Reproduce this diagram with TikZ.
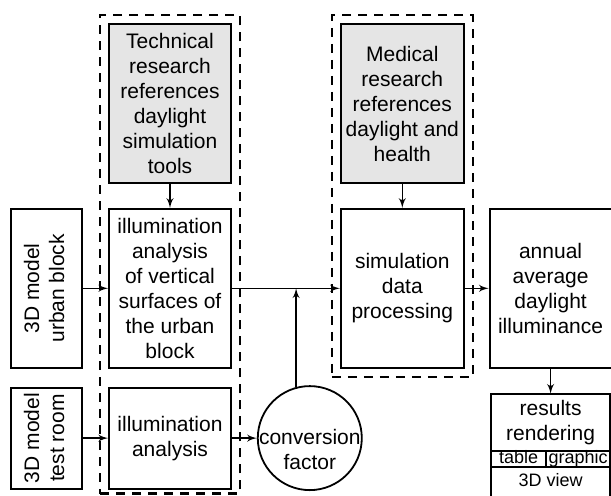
\documentclass[tikz,border=0pt]{standalone}
\usepackage{fontspec}
\setmainfont{Liberation Sans}
\usepackage{graphicx}
\usepackage{tikz}
\usetikzlibrary{positioning}
\usetikzlibrary{arrows,fit}
\tikzstyle{block} = [rectangle, draw, line width=0.9pt, align=center, inner sep=1pt,
                minimum width=61pt, minimum height=79.5pt]
\tikzstyle{source} = [block, fill=gray!20]
\tikzstyle{model} = [rectangle, draw, line width=0.9pt, minimum width=35.5pt, inner sep=0pt]
\tikzstyle{cell} = [rectangle, draw, line width=0.8pt, outer sep=0pt, inner sep=0pt,
                font=\fontsize{9}{11}\selectfont, text height=6.3pt, text depth=1.9pt, minimum height=8.2pt]
\tikzstyle{group} = [draw, line width=1.2pt, dash pattern=on 4.5pt off 3.5pt, inner sep=4pt]
\tikzstyle{line} = [draw, line width=0.7pt, -latex']

\begin{document}
\begin{tikzpicture}[font=\fontsize{10.5}{12.5}\selectfont]
        \useasboundingbox (0,0) rectangle (305.5pt,-247.5pt);
        \node[source] (tech) at (85pt,-51.75pt) {Technical\\research\\references\\daylight\\simulation\\tools};
        \node[block, below=12pt of tech] (illumv) {illumination\\analysis\\of vertical\\surfaces of\\the urban\\block};
        \node[block, below=9pt of illumv, minimum height=50.5pt] (illum) {illumination\\analysis};
        \node[model, left=12.5pt of illumv, minimum height=79.5pt] (urban) {\rotatebox{90}{\begin{tabular}{@{}c@{}}3D model\\urban block\end{tabular}}};
        \node[model, left=12.5pt of illum, minimum height=50.5pt] (room) {\rotatebox{90}{\begin{tabular}{@{}c@{}}3D model\\test room\end{tabular}}};
        \node[block, right=54pt of illumv, minimum width=61.5pt] (simproc) {simulation\\data\\processing};
        \node[source, above=12pt of simproc, minimum width=61.5pt] (medical) {Medical\\research\\references\\daylight and\\health};
        \node[block, right=12pt of simproc] (annual) {annual\\average\\daylight\\illuminance};
        \node[block, below=12.5pt of annual, minimum width=59.5pt, minimum height=28.5pt, outer sep=0pt] (results) {results\\rendering};
        \node[cell, below right=0pt and 0pt of results.south west, minimum width=27.5pt] (table) {table};
        \node[cell, right=0pt of table, minimum width=32pt] (graphic) {graphic};
        \node[cell, below right=0pt and 0pt of table.south west, minimum width=59.5pt, minimum height=15pt] (view) {3D view};
        \node[draw, circle, line width=0.9pt, minimum size=52pt, inner sep=0pt, right=12.5pt of illum,
              label={[align=center, yshift=-5.5pt]center:conversion\\factor}] (conv) {};
        \node[group, fit=(tech)(illum), inner ysep=3pt, yshift=1pt] (techgroup) {};
        \node[group, fit=(medical)(simproc)] (medgroup) {};
        \path[line] (tech) -- (illumv);
        \path[line] (medical) -- (simproc);
        \path[line] (urban) -- (illumv);
        \path[line] (room) -- (illum);
        \path[line] (illumv) -- (simproc);
        \path[line] (illum) -- (conv);
        \path[line] (conv.105) -- (conv.105 |- illumv.east);
        \path[line] (simproc) -- (annual);
        \path[line] (annual) -- (results);
\end{tikzpicture}
\end{document}
